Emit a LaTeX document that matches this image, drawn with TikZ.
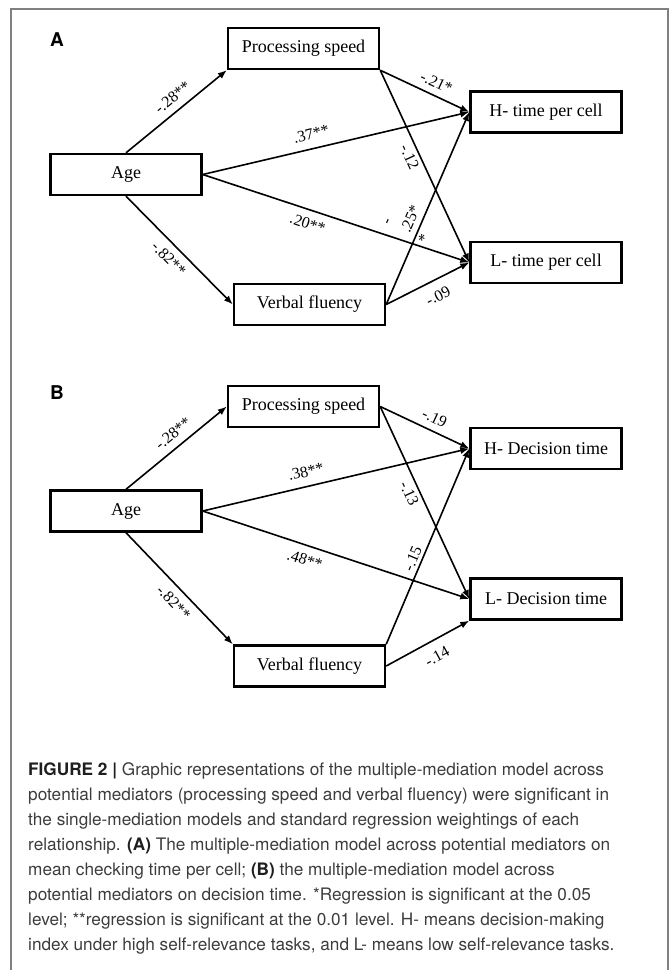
\documentclass[tikz,border=0pt]{standalone}
\usepackage{fontspec}
\setmainfont{Liberation Serif}
\newfontfamily\capfont{TeX Gyre Heros}
\usetikzlibrary{arrows.meta}
\definecolor{framegray}{RGB}{128,128,128}
\definecolor{captext}{RGB}{60,60,60}
\definecolor{capbold}{RGB}{30,30,30}
\begin{document}
\begin{tikzpicture}[x=1pt,y=-1pt,
  box/.style={draw, line width=2.4pt, minimum width=151pt, minimum height=41pt, inner sep=0pt, font=\fontsize{18}{20}\selectfont},
  conn/.style={line width=1.6pt, -{Latex[length=9pt,width=7pt]}},
  lbl/.style={font=\fontsize{16}{18}\selectfont, sloped},
  lbla/.style={lbl, above, inner sep=#1},
  lblb/.style={lbl, below, inner sep=#1},
  panel/.style={font=\capfont\bfseries\fontsize{19}{20}\selectfont},
  caption/.style={font=\capfont\fontsize{17.2}{25}\selectfont, text=captext, align=left, inner sep=0pt},
  frameline/.style={draw=framegray, line width=1.5pt}
]
\useasboundingbox (0,0) rectangle (670,970);
\draw[frameline] (11,970) -- (11,9) -- (668,9) -- (668,970);

% Panel A
\node[panel] (labA) at (57,40) {A};
\node[box] (psA) at (303.5,48.5) {Processing speed};
\node[box] (hA) at (546,112) {H- time per cell};
\node[box] (ageA) at (126,174.5) {Age};
\node[box] (lA) at (546,262.5) {L- time per cell};
\node[box] (vfA) at (309.5,304.5) {Verbal fluency};

\draw[conn] (ageA.north) -- node[lbla=7pt, pos=0.545] (eA1) {-.28**} (psA.south west);
\draw[conn] (ageA.east) -- node[lbla=8.5pt, pos=0.42] (eA2) {.37**} (hA.west);
\draw[conn] (ageA.east) -- node[lblb=7.5pt, pos=0.41] (eA3) {.20**} (lA.west);
\draw[conn] (ageA.south) -- node[lblb=7pt, pos=0.49] (eA4) {-.82**} (vfA.west);
\draw[conn] (psA.south east) -- node[lbla=6.5pt, pos=0.57] (eA5) {-.21*} (hA.west);
\draw[conn] (psA.south east) -- node[lblb=3.5pt, pos=0.43] (eA6) {-.12} (lA.west);
\draw[conn] (vfA.east) -- node[lbla=5.5pt, pos=0.42] (eA7) {.25*}
                          node[lbla=27pt, pos=0.365] (eA7m) {-}
                          node[lblb=2.5pt, pos=0.36] (eA7s) {*} (hA.west);
\draw[conn] (vfA.east) -- node[lblb=9.5pt, pos=0.54] (eA8) {-.09} (lA.west);

% Panel B
\node[panel] (labB) at (57,393) {B};
\node[box] (psB) at (303.5,406.5) {Processing speed};
\node[box] (hB) at (546,448.5) {H- Decision time};
\node[box] (ageB) at (126,511) {Age};
\node[box] (lB) at (546,599) {L- Decision time};
\node[box] (vfB) at (309.5,666) {Verbal fluency};

\draw[conn] (ageB.north) -- node[lbla=7pt, pos=0.55] (eB1) {-.28**} (psB.west);
\draw[conn] (ageB.east) -- node[lbla=8.5pt, pos=0.4] (eB2) {.38**} (hB.west);
\draw[conn] (ageB.east) -- node[lblb=8pt, pos=0.4] (eB3) {.48**} (lB.west);
\draw[conn] (ageB.south) -- node[lblb=7.5pt, pos=0.54] (eB4) {-.82**} (vfB.north west);
\draw[conn] (psB.east) -- node[lbla=6.5pt, pos=0.55] (eB5) {-.19} (hB.west);
\draw[conn] (psB.east) -- node[lblb=4pt, pos=0.43] (eB6) {-.13} (lB.west);
\draw[conn] (vfB.north east) -- node[lbla=3pt, pos=0.42] (eB7) {-.15} (hB.west);
\draw[conn] (vfB.east) -- node[lblb=10pt, pos=0.52] (eB8) {-.14} (lB.south west);

% Caption
\node[caption, anchor=north west] (cap) at (28,762) {%
{\bfseries\color{capbold}FIGURE 2 |} Graphic representations of the multiple-mediation model across\\
potential mediators (processing speed and verbal fluency) were significant in\\
the single-mediation models and standard regression weightings of each\\
relationship. {\bfseries\color{capbold}(A)} The multiple-mediation model across potential mediators on\\
mean checking time per cell; {\bfseries\color{capbold}(B)} the multiple-mediation model across\\
potential mediators on decision time. *Regression is significant at the 0.05\\
level; **regression is significant at the 0.01 level. H- means decision-making\\
index under high self-relevance tasks, and L- means low self-relevance tasks.};
\end{tikzpicture}
\end{document}
